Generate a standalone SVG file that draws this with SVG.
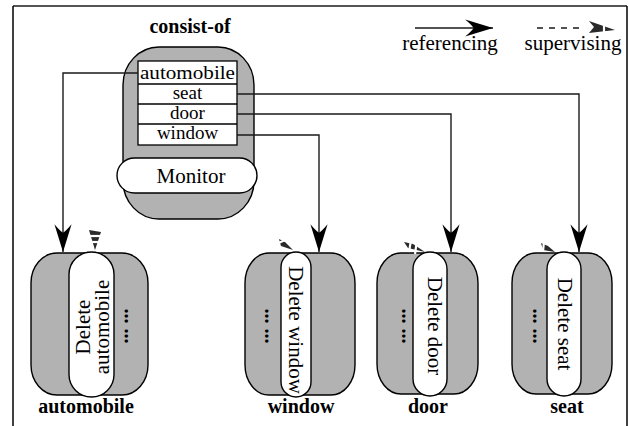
<svg xmlns="http://www.w3.org/2000/svg" width="629" height="426" viewBox="0 0 629 426">
  <style>
    .shell { fill: #b2b2b2; stroke: #000; stroke-width: 1.4; }
    .pill { fill: #fff; stroke: #000; stroke-width: 1.4; }
    .cell { fill: #fff; stroke: #000; stroke-width: 1.3; }
    .t { font-family: "Liberation Serif", "Times New Roman", serif; font-size: 21px; fill: #000; }
    .row { font-family: "Liberation Serif", "Times New Roman", serif; font-size: 19px; fill: #000; }
    .b { font-family: "Liberation Serif", "Times New Roman", serif; font-size: 20px; font-weight: bold; fill: #000; }
    .dots { font-family: "Liberation Serif", "Times New Roman", serif; font-size: 20px; font-weight: bold; fill: #000; }
    .ref { fill: none; stroke: #1a1a1a; stroke-width: 1.4; marker-end: url(#head); }
    .sup { fill: #2a2a2a; }
    .gap { stroke: #fff; stroke-width: 2.2; }
  </style>
  <defs>
    <marker id="head" markerUnits="userSpaceOnUse" markerWidth="30" markerHeight="20" viewBox="-27 -9 28 18" refX="0" refY="0" orient="auto">
      <path d="M0,0 L-26,-8 Q-20,-3 -18,0 Q-20,3 -26,8 Z" fill="#000"/>
    </marker>
  </defs>

  <!-- frame -->
  <line x1="13" y1="6" x2="627" y2="6" stroke="#555" stroke-width="2"/>
  <line x1="13" y1="6" x2="13" y2="426" stroke="#000" stroke-width="1.5"/>
  <line x1="627" y1="6" x2="627" y2="426" stroke="#000" stroke-width="1.5"/>

  <!-- legend -->
  <g id="legend">
    <line class="ref" x1="415" y1="28" x2="493" y2="28"/>
    <text class="t" x="450" y="50" text-anchor="middle">referencing</text>
    <line x1="537" y1="28" x2="584" y2="28" stroke="#1a1a1a" stroke-width="1.4" stroke-dasharray="6,6"/>
    <polygon class="sup" points="589,21 615,30 589,33 594,27"/>
    <line class="gap" x1="604" y1="18" x2="604" y2="36"/>
    <text class="t" x="573" y="50" text-anchor="middle">supervising</text>
  </g>

  <!-- consist-of node -->
  <g id="consist-of">
    <text class="b" x="190" y="33" text-anchor="middle">consist-of</text>
    <rect class="shell" x="123" y="47" width="131" height="172" rx="36" ry="38"/>
    <rect class="cell" x="138" y="61" width="99" height="84"/>
    <line x1="138" y1="84" x2="237" y2="84" stroke="#000" stroke-width="1.3"/>
    <line x1="138" y1="104" x2="237" y2="104" stroke="#000" stroke-width="1.3"/>
    <line x1="138" y1="124" x2="237" y2="124" stroke="#000" stroke-width="1.3"/>
    <text class="row" x="187.5" y="79" text-anchor="middle" textLength="95" lengthAdjust="spacingAndGlyphs">automobile</text>
    <text class="row" x="187.5" y="99" text-anchor="middle">seat</text>
    <text class="row" x="187.5" y="119" text-anchor="middle">door</text>
    <text class="row" x="187.5" y="139" text-anchor="middle">window</text>
    <rect class="pill" x="117" y="158" width="140" height="35" rx="17.5"/>
    <text class="t" x="191" y="183" text-anchor="middle">Monitor</text>
  </g>

  <!-- referencing connectors -->
  <g id="connectors">
    <path class="ref" d="M138,73 H63 V252"/>
    <path class="ref" d="M237,94 H579 V252"/>
    <path class="ref" d="M237,114 H451 V252"/>
    <path class="ref" d="M237,135 H319 V252"/>
  </g>

  <!-- automobile node -->
  <g id="automobile">
    <rect class="shell" x="31" y="253" width="117" height="142" rx="26" ry="30"/>
    <rect class="pill" x="69" y="252" width="45" height="145" rx="22.5"/>
    <text class="t" transform="translate(90,327) rotate(-90)" text-anchor="middle">Delete</text>
    <text class="t" transform="translate(109,327) rotate(-90)" text-anchor="middle">automobile</text>
    <text class="dots" transform="translate(128,326) rotate(-90)" text-anchor="middle">... ...</text>
    <polygon class="sup" points="89,230 101,232 95,250"/>
    <line class="gap" x1="86" y1="236" x2="104" y2="236"/>
    <line class="gap" x1="86" y1="242" x2="104" y2="242"/>
    <text class="b" x="86" y="413" text-anchor="middle">automobile</text>
  </g>

  <!-- window node -->
  <g id="window">
    <rect class="shell" x="245" y="253" width="110" height="142" rx="24" ry="30"/>
    <rect class="pill" x="281" y="252" width="30" height="145" rx="15"/>
    <text class="t" transform="translate(289,330) rotate(90)" text-anchor="middle">Delete window</text>
    <text class="dots" transform="translate(265,326) rotate(90)" text-anchor="middle">... ...</text>
    <polygon class="sup" points="279,239 285,242 293,250 281,246"/>
    <line class="gap" x1="276" y1="244" x2="290" y2="238"/>
    <text class="b" x="301" y="413" text-anchor="middle">window</text>
  </g>

  <!-- door node -->
  <g id="door">
    <rect class="shell" x="377" y="253" width="101" height="141" rx="24" ry="30"/>
    <rect class="pill" x="413" y="252" width="34" height="144" rx="17"/>
    <text class="t" transform="translate(428,326) rotate(90)" text-anchor="middle">Delete door</text>
    <text class="dots" transform="translate(402,326) rotate(90)" text-anchor="middle">... ...</text>
    <polygon class="sup" points="404,242 413,244 425,252 408,248"/>
    <line class="gap" x1="411" y1="240" x2="409" y2="252"/>
    <line class="gap" x1="417" y1="240" x2="415" y2="254"/>
    <text class="b" x="428" y="413" text-anchor="middle">door</text>
  </g>

  <!-- seat node -->
  <g id="seat">
    <rect class="shell" x="512" y="253" width="100" height="141" rx="24" ry="30"/>
    <rect class="pill" x="547" y="252" width="34" height="144" rx="17"/>
    <text class="t" transform="translate(558,324) rotate(90)" text-anchor="middle">Delete seat</text>
    <text class="dots" transform="translate(533,326) rotate(90)" text-anchor="middle">... ...</text>
    <polygon class="sup" points="541,243 548,246 555,252 543,250"/>
    <line class="gap" x1="544" y1="241" x2="543" y2="252"/>
    <text class="b" x="567" y="413" text-anchor="middle">seat</text>
  </g>
</svg>
